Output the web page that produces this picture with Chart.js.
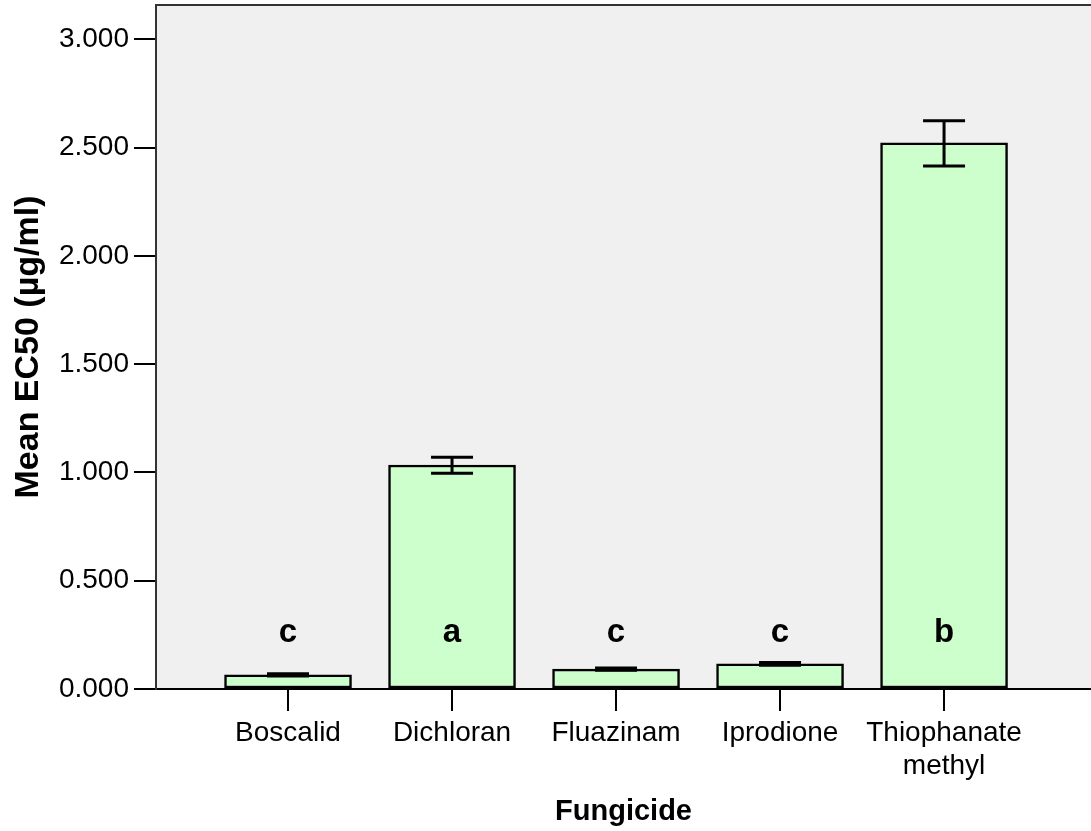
<!DOCTYPE html>
<html>
<head>
<meta charset="utf-8">
<script src="https://cdn.jsdelivr.net/npm/chart.js@4"></script>
<style>
  body { margin: 0; background: #fff; }
  #wrap { width: 1091px; height: 831px; }
</style>
</head>
<body>
<div id="wrap"><canvas id="chart"></canvas></div>
<script>
//Datos
const fungicides = ["Boscalid", "Dichloran", "Fluazinam", "Iprodione", "Thiophanate methyl"];
const meanEC50 = [0.065, 1.034, 0.092, 0.116, 2.522];
const errLow = [0.060, 0.996, 0.087, 0.110, 2.415];
const errHigh = [0.070, 1.070, 0.097, 0.122, 2.624];
const groupLetters = ["c", "a", "c", "c", "b"];
const letterLevel = 0.217;
const yTicks = [0, 0.5, 1.0, 1.5, 2.0, 2.5, 3.0];

const FONT = "'Liberation Sans', Arial, Helvetica, sans-serif";

//Fondo gris y borde superior del área
const plotBg = {
  id: "plotBg",
  beforeDraw(chart) {
    const { ctx, chartArea: a } = chart;
    ctx.save();
    ctx.fillStyle = "#f0f0f0";
    ctx.fillRect(a.left, a.top, a.right - a.left, a.bottom - a.top);
    ctx.strokeStyle = "#333";
    ctx.lineWidth = 2;
    ctx.beginPath();
    ctx.moveTo(a.left, a.top);
    ctx.lineTo(a.right, a.top);
    ctx.stroke();
    ctx.restore();
  }
};

//Barras de error y letras
const errorBars = {
  id: "errorBars",
  afterDatasetsDraw(chart) {
    const { ctx, scales: { x, y } } = chart;
    ctx.save();
    ctx.strokeStyle = "#000";
    ctx.lineWidth = 3;
    fungicides.forEach((f, i) => {
      const px = x.getPixelForValue(i + 1);
      const hi = y.getPixelForValue(errHigh[i]);
      const lo = y.getPixelForValue(errLow[i]);
      ctx.beginPath();
      ctx.moveTo(px, hi); ctx.lineTo(px, lo);
      ctx.moveTo(px - 21, hi); ctx.lineTo(px + 21, hi);
      ctx.moveTo(px - 21, lo); ctx.lineTo(px + 21, lo);
      ctx.stroke();
    });
    ctx.fillStyle = "#000";
    ctx.font = "bold 33px " + FONT;
    ctx.textAlign = "center";
    ctx.textBaseline = "alphabetic";
    groupLetters.forEach((l, i) => {
      ctx.fillText(l, x.getPixelForValue(i + 1), y.getPixelForValue(letterLevel));
    });
    ctx.restore();
  }
};

new Chart(document.getElementById("chart"), {
  type: "bar",
  data: {
    datasets: [{
      data: meanEC50.map((v, i) => ({ x: i + 1, y: v })),
      backgroundColor: "#ccffcc",
      borderColor: "#000",
      borderWidth: 2.5,
      borderSkipped: false,
      barThickness: 127
    }]
  },
  options: {
    responsive: true, maintainAspectRatio: false,
    animation: false,
    layout: { padding: { top: 5, right: 0, left: 0, bottom: 0 } },
    plugins: { legend: { display: false }, tooltip: { enabled: false } },
    scales: {
      x: {
        type: "linear",
        offset: false,
        min: 0.195, max: 5.896,
        grid: { offset: false, drawOnChartArea: false, drawTicks: true, tickLength: 22, color: "#000", lineWidth: 2 },
        border: { display: true, color: "#000", width: 2 },
        afterBuildTicks: s => { s.ticks = fungicides.map((f, i) => ({ value: i + 1 })); },
        afterFit: s => { s.height = 142; s.paddingLeft = 0; s.paddingRight = 0; },
        ticks: {
          autoSkip: false, maxRotation: 0,
          color: "#000", font: { family: FONT, size: 28 }, padding: 5,
          callback: v => {
            const name = fungicides[v - 1] || "";
            return name.includes(" ") ? name.split(" ") : name;
          }
        },
        title: {
          display: true, text: "Fungicide", color: "#000",
          font: { family: FONT, size: 29, weight: "bold" },
          padding: { top: 0, bottom: 2 }
        }
      },
      y: {
        min: 0, max: 3.158,
        grid: { drawOnChartArea: false, drawTicks: true, tickLength: 22, color: "#000", lineWidth: 2 },
        border: { display: true, color: "#333", width: 2 },
        afterBuildTicks: s => { s.ticks = yTicks.map(v => ({ value: v })); },
        afterFit: s => { s.width = 156; s.paddingTop = 0; s.paddingBottom = 0; },
        ticks: {
          color: "#000", font: { family: FONT, size: 28 }, padding: 5,
          callback: v => v.toFixed(3)
        },
        title: {
          display: true, text: "Mean EC50 (µg/ml)", color: "#000",
          font: { family: FONT, size: 34, weight: "bold" },
          padding: { top: 8, bottom: 0 }
        }
      }
    }
  },
  plugins: [plotBg, errorBars]
});
</script>
</body>
</html>
